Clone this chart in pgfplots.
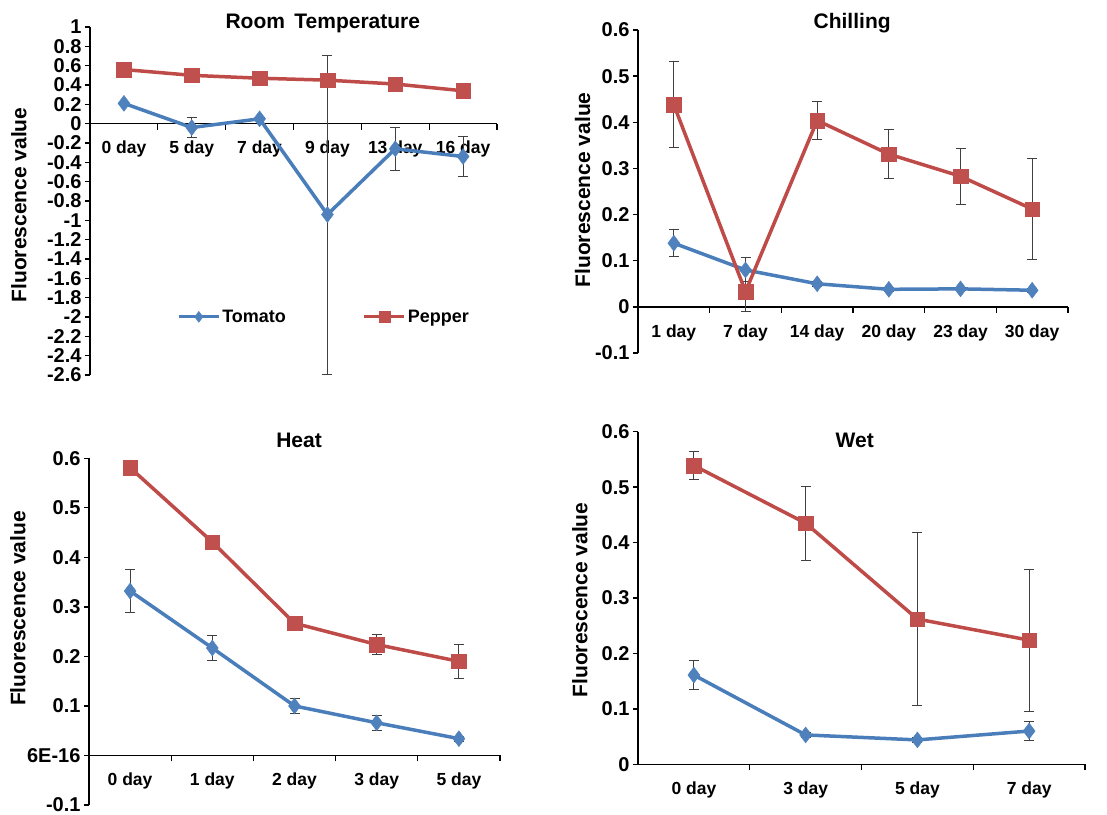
\documentclass[border=0pt]{standalone}
\usepackage{fontspec}
\setmainfont{Liberation Sans}
\usepackage{pgfplots}
\pgfplotsset{compat=1.18}
\definecolor{tomline}{HTML}{4A7EBB}
\definecolor{tommark}{HTML}{4F81BD}
\definecolor{pepline}{HTML}{BE4B48}
\definecolor{pepmark}{HTML}{C0504D}
\definecolor{errcol}{HTML}{404040}

\pgfplotsset{
  panel/.style={
    scale only axis, anchor=south west, clip=false,
    axis x line=middle, axis y line=left,
    axis line style={-, line width=1.5pt, black},
    hide obscured x ticks=false, hide obscured y ticks=false,
    tick align=outside,
    major tick length=5pt, minor tick length=6pt,
    tick style={black, line width=1.3pt},
    major x tick style={draw=none},
    tick label style={font=\bfseries\fontsize{20}{20}\selectfont},
    xticklabel style={font=\bfseries\fontsize{17.5}{17.5}\selectfont, yshift=-9pt},
    /pgf/number format/assume math mode=true,
  },
  errs/.style={
    error bars/y dir=both, error bars/y explicit,
    error bars/error bar style={line width=1pt, errcol},
    error bars/error mark options={rotate=90, mark size=5pt, line width=1pt, errcol},
  },
  tom/.style={errs, color=tomline, line width=3.5pt, mark=diamond*,
    mark size=8pt, mark options={solid, fill=tommark, draw=tommark, line width=0.4pt}},
  pep/.style={errs, color=pepline, line width=3.5pt, mark=square*,
    mark size=7.3pt, mark options={solid, fill=pepmark, draw=pepmark, line width=0.4pt}},
}
\newcommand{\ttl}{\bfseries\fontsize{21}{21}\selectfont}
\newcommand{\ylab}{\bfseries\fontsize{21}{21}\selectfont}

\begin{document}
\begin{tikzpicture}
\path[use as bounding box] (0,0) rectangle (1107pt,814pt);

% Room temperature
\begin{axis}[panel, at={(90pt,439pt)}, width=407pt, height=348pt,
  xmin=-0.5, xmax=5.5, ymin=-2.6, ymax=1,
  xtick={0,1,2,3,4,5},
  xticklabels={0 day,5 day,7 day,9 day,13 day,16 day},
  minor xtick={0.5,1.5,2.5,3.5,4.5,5.5},
  ytick={-2.6,-2.4,-2.2,-2,-1.8,-1.6,-1.4,-1.2,-1,-0.8,-0.6,-0.4,-0.2,0,0.2,0.4,0.6,0.8,1},
  legend columns=2,
  legend style={draw=none, fill=none, at={(axis description cs:0.214,0.167)}, anchor=west,
    font=\bfseries\fontsize{18}{18}\selectfont, inner sep=0pt,
    /tikz/every even column/.append style={column sep=75pt}},
  legend image code/.code={\draw[mark repeat=2, mark phase=2, line width=3pt, mark size=5.5pt]
    plot coordinates {(0pt,0pt)(20pt,0pt)(40pt,0pt)};},
]
\addplot[tom] coordinates {(0,0.21) +- (0,0.01) (1,-0.04) +- (0,0.10) (2,0.05) +- (0,0.01)
  (3,-0.94) +- (0,1.65) (4,-0.26) +- (0,0.22) (5,-0.34) +- (0,0.21)};
\addplot[pep] coordinates {(0,0.56) +- (0,0.01) (1,0.50) +- (0,0.01) (2,0.47) +- (0,0.01)
  (3,0.45) +- (0,0.01) (4,0.41) +- (0,0.01) (5,0.34) +- (0,0.01)};
\legend{Tomato,Pepper}
\node[font=\ttl] at (axis description cs:0.572,1.0115) {Room\, Temperature};
\node[font=\ylab, rotate=90] at (axis description cs:-0.1745,0.4885) {Fluorescence value};
\end{axis}

% Chilling
\begin{axis}[panel, at={(638pt,461pt)}, width=430pt, height=323pt,
  xmin=-0.5, xmax=5.5, ymin=-0.1, ymax=0.6,
  xtick={0,1,2,3,4,5},
  xticklabels={1 day,7 day,14 day,20 day,23 day,30 day},
  minor xtick={0.5,1.5,2.5,3.5,4.5,5.5},
  ytick={-0.1,0,0.1,0.2,0.3,0.4,0.5,0.6},
]
\addplot[tom] coordinates {(0,0.138) +- (0,0.029) (1,0.080) +- (0,0.026) (2,0.050) +- (0,0.005)
  (3,0.038) +- (0,0.004) (4,0.039) +- (0,0.004) (5,0.036) +- (0,0.004)};
\addplot[pep] coordinates {(0,0.438) +- (0,0.093) (1,0.033) +- (0,0.043) (2,0.404) +- (0,0.042)
  (3,0.331) +- (0,0.053) (4,0.283) +- (0,0.061) (5,0.212) +- (0,0.110)};
\node[font=\ttl] at (axis description cs:0.498,1.022) {Chilling};
\node[font=\ylab, rotate=90] at (axis description cs:-0.129,0.505) {Fluorescence value};
\end{axis}

% Heat
\begin{axis}[panel, at={(89pt,9pt)}, width=411pt, height=346.7pt,
  xmin=-0.5, xmax=4.5, ymin=-0.1, ymax=0.6,
  xtick={0,1,2,3,4},
  xticklabels={0 day,1 day,2 day,3 day,5 day},
  minor xtick={0.5,1.5,2.5,3.5,4.5},
  ytick={-0.1,0,0.1,0.2,0.3,0.4,0.5,0.6},
  yticklabels={-0.1,6E-16,0.1,0.2,0.3,0.4,0.5,0.6},
]
\addplot[tom] coordinates {(0,0.332) +- (0,0.043) (1,0.217) +- (0,0.025) (2,0.100) +- (0,0.016)
  (3,0.066) +- (0,0.015) (4,0.034) +- (0,0.005)};
\addplot[pep] coordinates {(0,0.581) +- (0,0.005) (1,0.431) +- (0,0.005) (2,0.267) +- (0,0.008)
  (3,0.224) +- (0,0.021) (4,0.190) +- (0,0.035)};
\node[font=\ttl] at (axis description cs:0.511,1.0505) {Heat};
\node[font=\ylab, rotate=90] at (axis description cs:-0.173,0.567) {Fluorescence value};
\end{axis}

% Wet
\begin{axis}[panel, at={(638pt,49.7pt)}, width=447pt, height=332.6pt,
  xmin=-0.5, xmax=3.5, ymin=0, ymax=0.6,
  xtick={0,1,2,3},
  xticklabels={0 day,3 day,5 day,7 day},
  minor xtick={0.5,1.5,2.5,3.5},
  ytick={0,0.1,0.2,0.3,0.4,0.5,0.6},
]
\addplot[tom] coordinates {(0,0.161) +- (0,0.026) (1,0.053) +- (0,0.005) (2,0.044) +- (0,0.005)
  (3,0.060) +- (0,0.017)};
\addplot[pep] coordinates {(0,0.539) +- (0,0.025) (1,0.435) +- (0,0.067) (2,0.262) +- (0,0.156)
  (3,0.224) +- (0,0.128)};
\node[font=\ttl] at (axis description cs:0.485,0.973) {Wet};
\node[font=\ylab, rotate=90] at (axis description cs:-0.130,0.494) {Fluorescence value};
\end{axis}
\end{tikzpicture}
\end{document}
